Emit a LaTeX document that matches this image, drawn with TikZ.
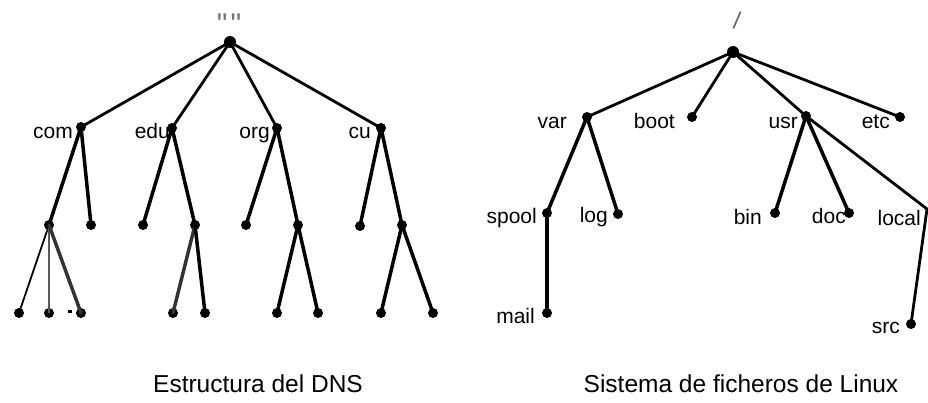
\documentclass[tikz,border=0pt]{standalone}
\usepackage{fontspec}
\setmainfont{Liberation Sans}
\newfontfamily\plainfont{Liberation Sans}
\begin{document}
\begin{tikzpicture}[x=1pt,y=-1pt,
  dot/.style={circle,fill=black,inner sep=0pt,minimum size=10pt},
  bigdot/.style={circle,fill=black,inner sep=0pt,minimum size=12pt},
  lbl/.style={anchor=base east,inner sep=0pt,font=\fontsize{21}{21}\selectfont},
  captxt/.style={anchor=base,inner sep=0pt,font=\fontsize{24.5}{24.5}\selectfont},
  edge/.style={line width=3.5pt,line cap=round},
  topedge/.style={line width=2.8pt,line cap=round}]
\useasboundingbox (0,0) rectangle (928,402);
% ---------- DNS tree ----------
\node[anchor=base,inner sep=0pt,text=black!55,font=\plainfont\fontsize{30}{30}\selectfont] (rootlbl) at (229,34) {"\hspace{3pt}"};
\node[bigdot] (root) at (230,42) {};
\node[dot] (com) at (81,127) {};
\node[dot] (edu) at (172,128) {};
\node[dot] (org) at (277,128) {};
\node[dot] (cu) at (381,128) {};
\node[lbl] (comlbl) at (73,138) {com};
\node[lbl] (edulbl) at (170,138) {edu};
\node[lbl] (orglbl) at (270,138) {org};
\node[lbl] (culbl) at (371,138) {cu};
\node[dot] (c1) at (49,225) {};
\node[dot] (c2) at (91,225) {};
\node[dot] (e1) at (143,225) {};
\node[dot] (e2) at (195,225) {};
\node[dot] (o1) at (246,225) {};
\node[dot] (o2) at (298,225) {};
\node[dot] (u1) at (360,226) {};
\node[dot] (u2) at (402,225) {};
\node[dot] (c11) at (19,313) {};
\node[dot] (c12) at (49,313) {};
\node[dot] (c13) at (81,313) {};
\node[dot] (e21) at (173,313) {};
\node[dot] (e22) at (205,313) {};
\node[dot] (o21) at (277,313) {};
\node[dot] (o22) at (318,313) {};
\node[dot] (u21) at (381,313) {};
\node[dot] (u22) at (433,313) {};
\node[fill=black,inner sep=0pt,minimum width=4pt,minimum height=3pt] (tick) at (70,311) {};
\foreach \b in {com,edu,org,cu} \draw[topedge] (root.center) -- (\b.center);
\draw[edge] (com.center) -- (c1.center);
\draw[edge] (com.center) -- (c2.center);
\draw[edge] (edu.center) -- (e1.center);
\draw[edge] (edu.center) -- (e2.center);
\draw[edge] (org.center) -- (o1.center);
\draw[edge] (org.center) -- (o2.center);
\draw[edge] (cu.center) -- (u1.center);
\draw[edge] (cu.center) -- (u2.center);
\draw[line width=1.8pt] (c1.center) -- (c11.center);
\draw[line width=2.2pt,black!65] (c1.center) -- (c12.center);
\draw[edge,black!80] (c1.center) -- (c13.center);
\draw[edge,black!80] (e2.center) -- (e21.center);
\draw[edge] (e2.center) -- (e22.center);
\draw[edge] (o2.center) -- (o21.center);
\draw[edge] (o2.center) -- (o22.center);
\draw[edge] (u2.center) -- (u21.center);
\draw[edge] (u2.center) -- (u22.center);
\node[captxt] (cap1) at (258,392) {Estructura del DNS};
% ---------- Linux tree ----------
\node[anchor=base,inner sep=0pt,text=black!60,font=\fontsize{24}{24}\selectfont,rotate=-8] (root2lbl) at (736,29) {/};
\node[bigdot] (root2) at (733,52) {};
\node[dot] (var) at (587,117) {};
\node[dot] (boot) at (692,117) {};
\node[dot] (usr) at (806,116) {};
\node[dot] (etc) at (900,117) {};
\node[lbl] (varlbl) at (567,128) {var};
\node[lbl] (bootlbl) at (675,128) {boot};
\node[lbl] (usrlbl) at (798,128) {usr};
\node[lbl] (etclbl) at (890,128) {etc};
\node[dot] (spool) at (547,213) {};
\node[dot] (log) at (618,214) {};
\node[dot] (bin) at (775,213) {};
\node[dot] (doc) at (849,213) {};
\coordinate (local) at (927,209);
\node[dot] (mail) at (547,313) {};
\node[dot] (src) at (911,324) {};
\node[lbl] (spoollbl) at (537,223) {spool};
\node[lbl] (loglbl) at (608,222) {log};
\node[lbl] (binlbl) at (762,224) {bin};
\node[lbl] (doclbl) at (846,223) {doc};
\node[lbl] (locallbl) at (921,225) {local};
\node[lbl] (maillbl) at (535,323) {mail};
\node[lbl] (srclbl) at (900,333) {src};
\foreach \b in {var,boot,usr,etc} \draw[topedge] (root2.center) -- (\b.center);
\draw[edge] (var.center) -- (spool.center);
\draw[edge] (var.center) -- (log.center);
\draw[edge] (usr.center) -- (bin.center);
\draw[edge] (usr.center) -- (doc.center);
\draw[topedge,line join=round] (usr.center) -- (local) -- (src.center);
\draw[edge] (spool.center) -- (mail.center);
\node[captxt] (cap2) at (741,392) {Sistema de ficheros de Linux};
\end{tikzpicture}
\end{document}
